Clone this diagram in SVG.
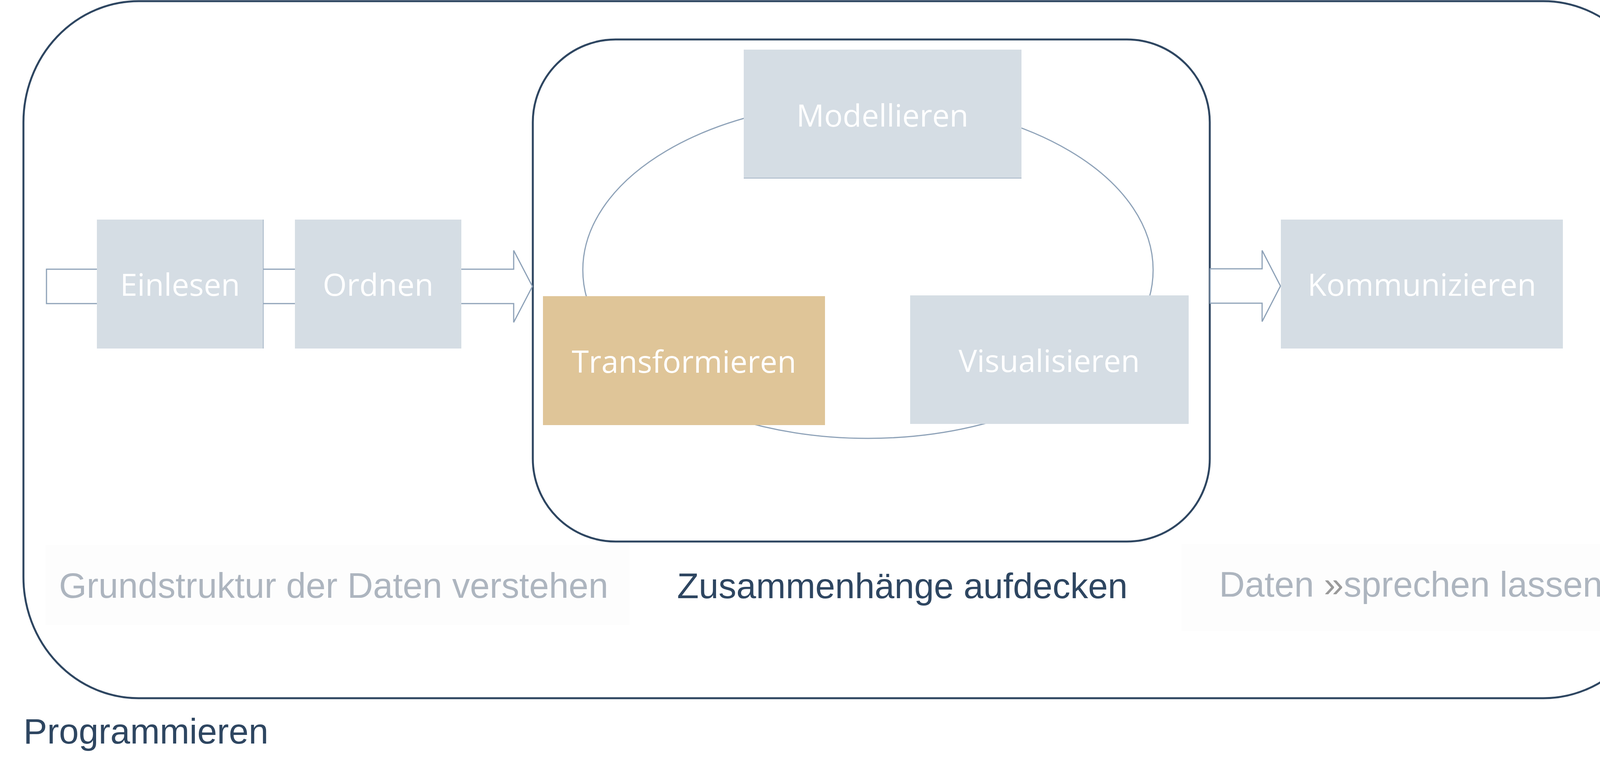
<svg xmlns="http://www.w3.org/2000/svg" width="4252" height="1981" viewBox="0 0 4252 1981">
<style>
.frame{fill:none;stroke:#2E4661;stroke-width:5}
.conn{fill:#FFFFFF;stroke:#8EA2B8;stroke-width:3}
.ring{fill:none;stroke:#8EA2B8;stroke-width:3}
.box{fill:#D5DDE4}
.hl{fill:#DFC598}
.lbl{font-family:"Open Sans","Liberation Sans",sans-serif;font-size:79px;fill:#FFFFFF;text-anchor:middle}
.cap{font-family:"Liberation Sans",Arial,sans-serif;font-size:91px;text-anchor:middle}
.grey{fill:#ADB5BF}
.navy{fill:#2E4661}
.quote{fill:#9A9A9A}
.pad{fill:#FDFDFD}
</style>
<rect width="4252" height="1981" fill="#FFFFFF"/>
<g id="programmieren">
<rect class="frame" x="60" y="3" width="4186" height="1784" rx="295" ry="310"/>
<text class="cap navy" x="60" y="1903" style="text-anchor:start">Programmieren</text>
</g>
<g id="pads">
<rect class="pad" x="116" y="1395" width="1496" height="205"/>
<rect class="pad" x="3024" y="1392" width="1180" height="223"/>
</g>
<g id="zusammenhaenge">
<rect class="frame" x="1364" y="101" width="1733" height="1285" rx="212" ry="212"/>
</g>
<g id="connectors">
<polygon class="conn" points="119,689 1315,689 1315,641 1363,733 1315,825 1315,777 119,777"/>
<polygon class="conn" points="3098,688 3231,688 3231,641 3278,732 3231,823 3231,776 3098,776"/>
<ellipse class="ring" cx="2222" cy="691" rx="730" ry="431"/>
</g>
<g id="einlesen">
<rect class="box" x="248" y="562" width="426" height="330"/>
<line x1="674" y1="562" x2="674" y2="892" stroke="#8EA2B8" stroke-width="1.5"/>
<text class="lbl" x="461" y="757">Einlesen</text>
</g>
<g id="ordnen">
<rect class="box" x="755" y="562" width="426" height="330"/>
<text class="lbl" x="968" y="757">Ordnen</text>
</g>
<g id="modellieren">
<rect class="box" x="1904" y="127" width="711" height="329"/>
<line x1="1904" y1="456" x2="2615" y2="456" stroke="#8EA2B8" stroke-width="1.5"/>
<text class="lbl" x="2259" y="324">Modellieren</text>
</g>
<g id="transformieren">
<rect class="hl" x="1390" y="758" width="722" height="330"/>
<text class="lbl" x="1751" y="954">Transformieren</text>
</g>
<g id="visualisieren">
<rect class="box" x="2330" y="756" width="713" height="329"/>
<text class="lbl" x="2686" y="952">Visualisieren</text>
</g>
<g id="kommunizieren">
<rect class="box" x="3279" y="562" width="722" height="330"/>
<text class="lbl" x="3640" y="757">Kommunizieren</text>
</g>
<g id="captions">
<text class="cap grey" x="854" y="1530">Grundstruktur der Daten verstehen</text>
<text class="cap navy" x="2310" y="1531">Zusammenhänge aufdecken</text>
<text class="cap grey" x="3637" y="1527">Daten <tspan class="quote">»</tspan>sprechen lassen<tspan class="quote">«</tspan></text>
</g>
</svg>
